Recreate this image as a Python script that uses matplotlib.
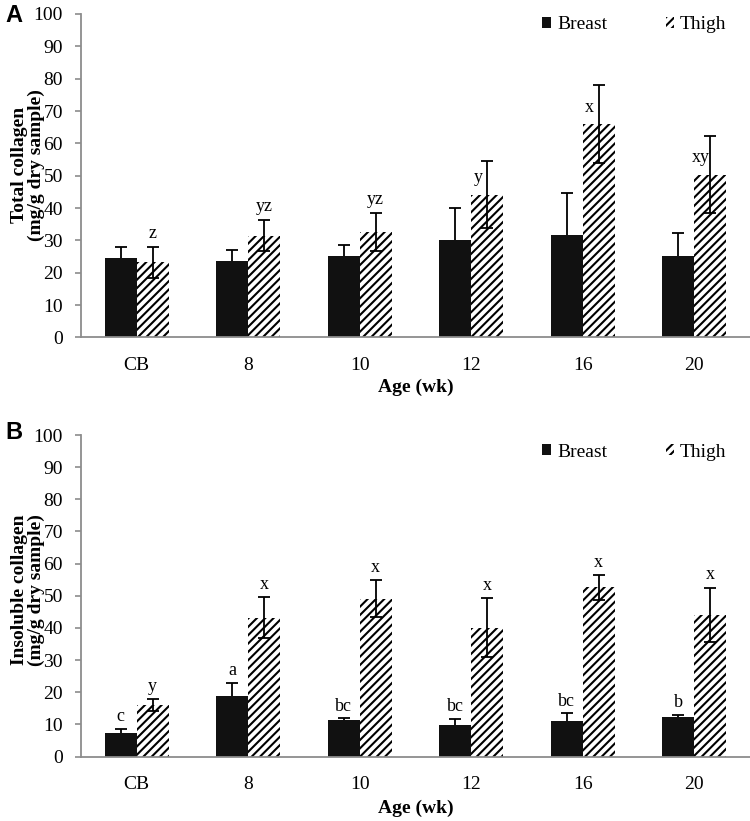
import matplotlib
matplotlib.use('Agg')
import matplotlib.pyplot as plt
from matplotlib.patches import Patch
import numpy as np

plt.rcParams['font.family'] = ['Liberation Serif', 'DejaVu Serif']
plt.rcParams['hatch.linewidth'] = 1.5

# Data
ages = ['CB', '8', '10', '12', '16', '20']

total_breast = [24.7, 23.6, 25.3, 30.0, 31.6, 25.3]
total_breast_err = [3.3, 3.4, 3.4, 10.1, 13.1, 7.1]
total_thigh = [23.2, 31.4, 32.6, 44.2, 65.9, 50.3]
total_thigh_err = [4.7, 4.8, 5.8, 10.3, 12.0, 11.9]
total_thigh_letters = ['z', 'yz', 'yz', 'y', 'x', 'xy']
total_letter_over_err = [True, True, True, False, False, False]

insol_breast = [7.2, 18.8, 11.3, 9.8, 11.1, 12.2]
insol_breast_err = [1.4, 4.1, 0.6, 1.9, 2.3, 0.8]
insol_thigh = [16.0, 43.2, 49.1, 40.1, 52.6, 44.1]
insol_thigh_err = [1.9, 6.4, 5.7, 9.2, 3.8, 8.4]
insol_breast_letters = ['c', 'a', 'bc', 'bc', 'bc', 'b']
insol_thigh_letters = ['y', 'x', 'x', 'x', 'x', 'x']

W, H = 750, 821
fig = plt.figure(figsize=(W / 100, H / 100), dpi=100)


def px_axes(top, bottom, left=81, right=750):
    return fig.add_axes([left / W, 1 - bottom / H, (right - left) / W, (bottom - top) / H])


def draw_panel(ax, breast, breast_err, thigh, thigh_err):
    x = np.arange(len(ages))
    w = 0.285
    breast = np.array(breast)
    top = breast + np.array(breast_err)
    ax.bar(x - w / 2, breast, w, color='#111111', linewidth=0, zorder=2)
    ax.bar(x + w / 2, thigh, w, color='white', edgecolor='black', hatch='////',
           linewidth=0, zorder=2)
    # breast error bars only show the upper half
    ax.vlines(x - w / 2, breast, top, color='black', lw=1.3, zorder=3)
    ax.plot(x - w / 2, top, ls='none', marker='_', ms=8, mew=1.3, color='black', zorder=3)
    ax.errorbar(x + w / 2, thigh, yerr=thigh_err, fmt='none', ecolor='black',
                elinewidth=1.3, capsize=4, capthick=1.3, zorder=3)

    ax.set_xlim(-0.5, 5.5)
    ax.set_ylim(0, 100)
    ax.set_yticks(range(0, 101, 10))
    ax.set_xticks(x)
    ax.set_xticklabels(ages)
    for s in ['top', 'right']:
        ax.spines[s].set_visible(False)
    for s in ['left', 'bottom']:
        ax.spines[s].set_color('#8c8c8c')
        ax.spines[s].set_linewidth(1.3)
    ax.tick_params(axis='y', length=4, width=1.2, color='#8c8c8c', pad=9, labelsize=14)
    ax.tick_params(axis='x', length=0, pad=14, labelsize=14)

    handles = [Patch(facecolor='#111111', linewidth=0, label='Breast'),
               Patch(facecolor='white', edgecolor='black', hatch='////', linewidth=0, label='Thigh')]
    return handles, x, w


# Panel A
axA = px_axes(14, 337.5)
hA, x, w = draw_panel(axA, total_breast, total_breast_err, total_thigh, total_thigh_err)
for i, lab in enumerate(total_thigh_letters):
    if total_letter_over_err[i]:
        axA.text(x[i] + w / 2, total_thigh[i] + total_thigh_err[i] + 2.8, lab,
                 ha='center', va='baseline', fontsize=13)
    else:
        axA.text(x[i] + w / 2 - 0.08, total_thigh[i] + 3.9, lab,
                 ha='center', va='baseline', fontsize=13)
axA.legend(handles=hA, loc='center right', bbox_to_anchor=(0.965, 0.966), ncol=2,
           frameon=False, fontsize=14, handlelength=0.45, handleheight=0.45,
           handletextpad=0.3, columnspacing=3.0, borderpad=0, borderaxespad=0)

# Panel B
axB = px_axes(435, 756.5)
hB, x, w = draw_panel(axB, insol_breast, insol_breast_err, insol_thigh, insol_thigh_err)
for i in range(len(ages)):
    axB.text(x[i] - w / 2, insol_breast[i] + insol_breast_err[i] + 2.4,
             insol_breast_letters[i], ha='center', va='baseline', fontsize=13)
    axB.text(x[i] + w / 2, insol_thigh[i] + insol_thigh_err[i] + 2.6,
             insol_thigh_letters[i], ha='center', va='baseline', fontsize=13)
axB.legend(handles=hB, loc='center right', bbox_to_anchor=(0.965, 0.947), ncol=2,
           frameon=False, fontsize=14, handlelength=0.45, handleheight=0.45,
           handletextpad=0.3, columnspacing=3.0, borderpad=0, borderaxespad=0)

# Axis titles and panel letters
fig.text(28 / W, 1 - 165 / H, 'Total collagen\n(mg/g dry sample)', rotation=90,
         ha='center', va='center', fontsize=14, fontweight='bold', linespacing=1.05)
fig.text(28 / W, 1 - 590 / H, 'Insoluble collagen\n(mg/g dry sample)', rotation=90,
         ha='center', va='center', fontsize=14, fontweight='bold', linespacing=1.05)
fig.text(416 / W, 1 - 387 / H, 'Age (wk)', ha='center', va='center',
         fontsize=14, fontweight='bold')
fig.text(416 / W, 1 - 808 / H, 'Age (wk)', ha='center', va='center',
         fontsize=14, fontweight='bold')
fig.text(5 / W, 1 - 16 / H, 'A', ha='left', va='center', fontsize=17,
         fontweight='bold', family='Liberation Sans')
fig.text(5 / W, 1 - 432 / H, 'B', ha='left', va='center', fontsize=17,
         fontweight='bold', family='Liberation Sans')

fig.savefig('out.png', dpi=100)
